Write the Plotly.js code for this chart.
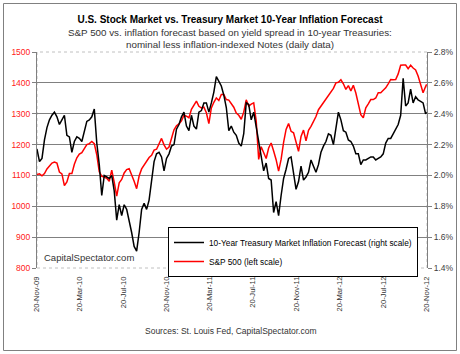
<!DOCTYPE html>
<html><head><meta charset="utf-8">
<script src="https://cdn.plot.ly/plotly-3.0.1.min.js"></script>
<style>html,body{margin:0;padding:0;background:#fff}#chart{width:460px;height:354px}</style>
</head><body><div id="chart"></div>
<script>
const dates = [
'2009-11-20','2009-11-27','2009-12-04','2009-12-11','2009-12-18','2009-12-25','2010-01-01','2010-01-08','2010-01-15','2010-01-22',
'2010-01-29','2010-02-05','2010-02-12','2010-02-19','2010-02-26','2010-03-05','2010-03-12','2010-03-19','2010-03-26','2010-04-02',
'2010-04-09','2010-04-16','2010-04-23','2010-04-30','2010-05-07','2010-05-14','2010-05-21','2010-05-28','2010-06-04','2010-06-11',
'2010-06-18','2010-06-25','2010-07-02','2010-07-09','2010-07-16','2010-07-23','2010-07-30','2010-08-06','2010-08-13','2010-08-20',
'2010-08-27','2010-09-03','2010-09-10','2010-09-17','2010-09-24','2010-10-01','2010-10-08','2010-10-15','2010-10-22','2010-10-29',
'2010-11-05','2010-11-12','2010-11-19','2010-11-26','2010-12-03','2010-12-10','2010-12-17','2010-12-24','2010-12-31','2011-01-07',
'2011-01-14','2011-01-21','2011-01-28','2011-02-04','2011-02-11','2011-02-18','2011-02-25','2011-03-04','2011-03-11','2011-03-18',
'2011-03-25','2011-04-01','2011-04-08','2011-04-15','2011-04-22','2011-04-29','2011-05-06','2011-05-13','2011-05-20','2011-05-27',
'2011-06-03','2011-06-10','2011-06-17','2011-06-24','2011-07-01','2011-07-08','2011-07-15','2011-07-22','2011-07-29','2011-08-05',
'2011-08-12','2011-08-19','2011-08-26','2011-09-02','2011-09-09','2011-09-16','2011-09-23','2011-09-30','2011-10-07','2011-10-14',
'2011-10-21','2011-10-28','2011-11-04','2011-11-11','2011-11-18','2011-11-25','2011-12-02','2011-12-09','2011-12-16','2011-12-23',
'2011-12-30','2012-01-06','2012-01-13','2012-01-20','2012-01-27','2012-02-03','2012-02-10','2012-02-17','2012-02-24','2012-03-02',
'2012-03-09','2012-03-16','2012-03-23','2012-03-30','2012-04-06','2012-04-13','2012-04-20','2012-04-27','2012-05-04','2012-05-11',
'2012-05-18','2012-05-25','2012-06-01','2012-06-08','2012-06-15','2012-06-22','2012-06-29','2012-07-06','2012-07-13','2012-07-20',
'2012-07-27','2012-08-03','2012-08-10','2012-08-17','2012-08-24','2012-08-31','2012-09-07','2012-09-14','2012-09-21','2012-09-28',
'2012-10-05','2012-10-12','2012-10-19','2012-10-26','2012-11-02','2012-11-09','2012-11-16','2012-11-19'];

const inflationForecast = [
2.17,2.09,2.11,2.23,2.31,2.36,2.39,2.41,2.38,2.33,
2.36,2.39,2.26,2.25,2.15,2.22,2.25,2.24,2.22,2.28,
2.35,2.36,2.38,2.43,2.21,2.07,1.87,2.00,1.99,1.98,
2.00,1.90,1.71,1.81,1.74,1.81,1.78,1.71,1.63,1.54,
1.51,1.63,1.78,1.82,1.78,1.84,1.96,2.09,2.14,2.15,
2.12,2.03,2.11,2.14,2.19,2.20,2.30,2.33,2.38,2.41,
2.32,2.29,2.39,2.32,2.30,2.41,2.42,2.47,2.47,2.41,
2.47,2.54,2.64,2.61,2.58,2.52,2.44,2.29,2.32,2.28,
2.26,2.21,2.19,2.27,2.47,2.46,2.36,2.41,2.31,2.22,
2.12,2.03,2.08,1.98,1.97,1.76,1.83,1.74,1.87,1.98,
2.04,2.11,2.12,2.02,1.91,1.96,2.06,1.97,1.99,2.02,
2.10,2.06,2.02,2.07,2.15,2.19,2.22,2.27,2.26,2.20,
2.30,2.41,2.36,2.29,2.28,2.23,2.22,2.19,2.14,2.14,
2.07,2.10,2.10,2.11,2.12,2.12,2.10,2.11,2.12,2.14,
2.21,2.24,2.24,2.27,2.30,2.33,2.39,2.63,2.45,2.47,
2.56,2.47,2.51,2.49,2.48,2.47,2.40,2.41];

const sp500 = [
1103,1105,1099,1106,1121,1130,1140,1143,1140,1111,
1105,1067,1079,1106,1106,1136,1157,1169,1174,1187,
1200,1203,1210,1203,1167,1112,1097,1095,1091,1081,
1117,1078,1033,1076,1087,1108,1119,1122,1104,1081,
1057,1098,1121,1133,1142,1158,1165,1182,1185,1202,
1220,1199,1185,1192,1219,1248,1261,1267,1277,1295,
1292,1287,1314,1330,1341,1324,1319,1321,1303,1268,
1319,1337,1351,1343,1362,1362,1346,1344,1333,1321,
1302,1295,1282,1305,1345,1325,1331,1335,1277,1152,
1193,1174,1155,1189,1205,1179,1151,1114,1152,1207,
1249,1268,1243,1238,1207,1178,1226,1247,1212,1246,
1259,1274,1291,1313,1324,1337,1348,1359,1371,1382,
1400,1402,1410,1397,1379,1391,1374,1392,1367,1332,
1297,1287,1319,1332,1346,1346,1351,1368,1368,1376,
1384,1397,1411,1410,1411,1429,1457,1458,1458,1446,
1457,1448,1442,1422,1397,1368,1388,1395];

const xTickDates = ['2009-11-20','2010-03-20','2010-07-20','2010-11-20','2011-03-20','2011-07-20','2011-11-20','2012-03-20','2012-07-20','2012-11-20'];
const xTickLabels = ['20-Nov-09','20-Mar-10','20-Jul-10','20-Nov-10','20-Mar-11','20-Jul-11','20-Nov-11','20-Mar-12','20-Jul-12','20-Nov-12'];
const leftTickVals = [800,900,1000,1100,1200,1300,1400,1500];
const rightTickVals = [1.4,1.6,1.8,2.0,2.2,2.4,2.6,2.8];
const rightTickLabels = ['1.4%','1.6%','1.8%','2.0%','2.2%','2.4%','2.6%','2.8%'];

const FONT = 'Liberation Sans, Arial, sans-serif';

const traces = [
  {x: dates, y: inflationForecast, yaxis: 'y2', type: 'scatter', mode: 'lines',
   name: '10-Year Treasury Market Inflation Forecast (right scale)',
   line: {color: '#000000', width: 1.5}, hoverinfo: 'skip'},
  {x: dates, y: sp500, yaxis: 'y', type: 'scatter', mode: 'lines',
   name: 'S&P 500 (left scale)',
   line: {color: '#ff0000', width: 1.5}, hoverinfo: 'skip'}
];

const layout = {
  width: 460, height: 354,
  margin: {l: 37, r: 33, t: 52, b: 86},
  paper_bgcolor: '#ffffff', plot_bgcolor: '#ffffff',
  font: {family: FONT, size: 9, color: '#333333'},
  title: {text: '<b>U.S. Stock Market vs. Treasury Market 10-Year Inflation Forecast</b>',
          x: 0.5, xanchor: 'center', xref: 'container', y: 1 - 19/354, yanchor: 'middle', yref: 'container',
          font: {family: FONT, size: 10, color: '#000000'}},
  showlegend: true,
  legend: {x: (418-37)/390, xanchor: 'right', y: (268-227)/216, yanchor: 'top',
           bgcolor: '#ffffff', bordercolor: '#000000', borderwidth: 1,
           font: {family: FONT, size: 8.3, color: '#000000'}, itemwidth: 30, tracegroupgap: 0},
  xaxis: {type: 'date', range: ['2009-11-20', '2012-11-20'], tickmode: 'array',
          tickvals: xTickDates, ticktext: xTickLabels, tickangle: -90,
          ticks: '', showgrid: false, showline: false, zeroline: false,
          ticklabelstandoff: 6,
          tickfont: {family: FONT, size: 7.6, color: '#333333'}},
  yaxis: {range: [800, 1500], tickmode: 'array', tickvals: leftTickVals,
          ticks: 'outside', ticklen: 4, tickcolor: '#808080', tickwidth: 1,
          showline: true, linecolor: '#808080', linewidth: 1,
          showgrid: true, gridcolor: '#808080', gridwidth: 1, zeroline: false,
          tickfont: {family: FONT, size: 8.5, color: '#ff2020'}},
  yaxis2: {range: [1.4, 2.8], overlaying: 'y', side: 'right', tickmode: 'array',
           tickvals: rightTickVals, ticktext: rightTickLabels,
           ticks: 'outside', ticklen: 4, tickcolor: '#808080', tickwidth: 1,
           showline: true, linecolor: '#808080', linewidth: 1,
           showgrid: false, zeroline: false,
           tickfont: {family: FONT, size: 8.5, color: '#404040'}},
  shapes: [
    {type: 'rect', xref: 'paper', yref: 'paper', x0: 0, x1: 1, y0: 0, y1: 1,
     line: {color: '#c0c0c0', width: 1, dash: 'dot'}, layer: 'below'},
    {type: 'rect', xref: 'paper', yref: 'paper',
     x0: (3.5-37)/390, x1: (456.5-37)/390, y0: (268-350.5)/216, y1: (268-3.5)/216,
     line: {color: '#808080', width: 1}, layer: 'below'}
  ],
  annotations: [
    {text: 'S&amp;P 500 vs. inflation forecast based on yield spread in 10-year Treasuries:',
     xref: 'paper', yref: 'paper', x: (230-37)/390, y: (268-33)/216, xanchor: 'center', yanchor: 'middle',
     showarrow: false, font: {family: FONT, size: 9.8, color: '#333333'}},
    {text: 'nominal less inflation-indexed Notes (daily data)',
     xref: 'paper', yref: 'paper', x: (230-37)/390, y: (268-45)/216, xanchor: 'center', yanchor: 'middle',
     showarrow: false, font: {family: FONT, size: 9.8, color: '#333333'}},
    {text: 'CapitalSpectator.com',
     xref: 'paper', yref: 'paper', x: (42-37)/390, y: (268-257.5)/216, xanchor: 'left', yanchor: 'middle',
     showarrow: false, font: {family: FONT, size: 9.5, color: '#333333'}},
    {text: 'Sources: St. Louis Fed, CapitalSpectator.com',
     xref: 'paper', yref: 'paper', x: (231-37)/390, y: (268-331)/216, xanchor: 'center', yanchor: 'middle',
     showarrow: false, font: {family: FONT, size: 8.5, color: '#333333'}}
  ]
};

Plotly.newPlot('chart', traces, layout, {staticPlot: true, displayModeBar: false});
</script></body></html>
